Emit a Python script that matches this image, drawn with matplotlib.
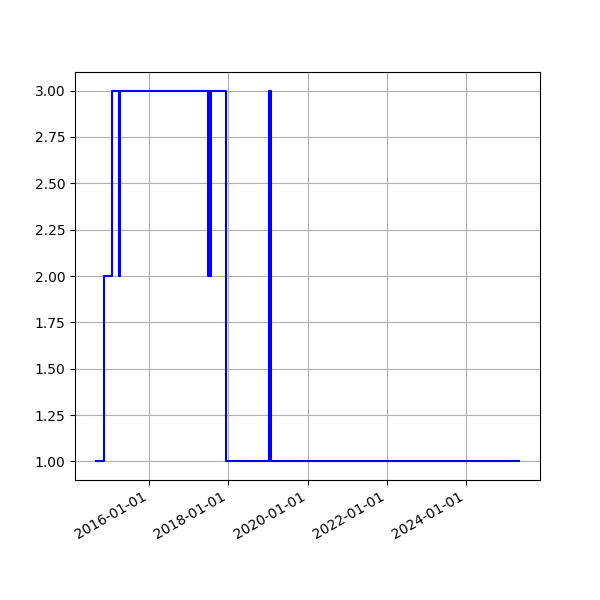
import matplotlib
matplotlib.use("Agg")
import matplotlib.pyplot as plt
import matplotlib.dates as mdates
import pandas as pd

dates = [
    "2014-08-28", "2014-11-09", "2015-01-19", "2015-03-24", "2015-04-05",
    "2017-06-23", "2017-07-02", "2017-07-11", "2017-07-21", "2017-12-08",
    "2019-01-11", "2019-01-25", "2025-05-06",
]
values = [1, 2, 3, 2, 3, 2, 3, 2, 3, 1, 3, 1, 1]

x = pd.to_datetime(dates)

fig, ax = plt.subplots(figsize=(6, 6), dpi=100)
ax.plot(x, values, drawstyle="steps-post", color="blue")
ax.xaxis.set_major_locator(mdates.YearLocator(2))
ax.xaxis.set_major_formatter(mdates.DateFormatter("%Y-%m-%d"))
ax.grid(True)
fig.autofmt_xdate()
fig.savefig("out.png")
